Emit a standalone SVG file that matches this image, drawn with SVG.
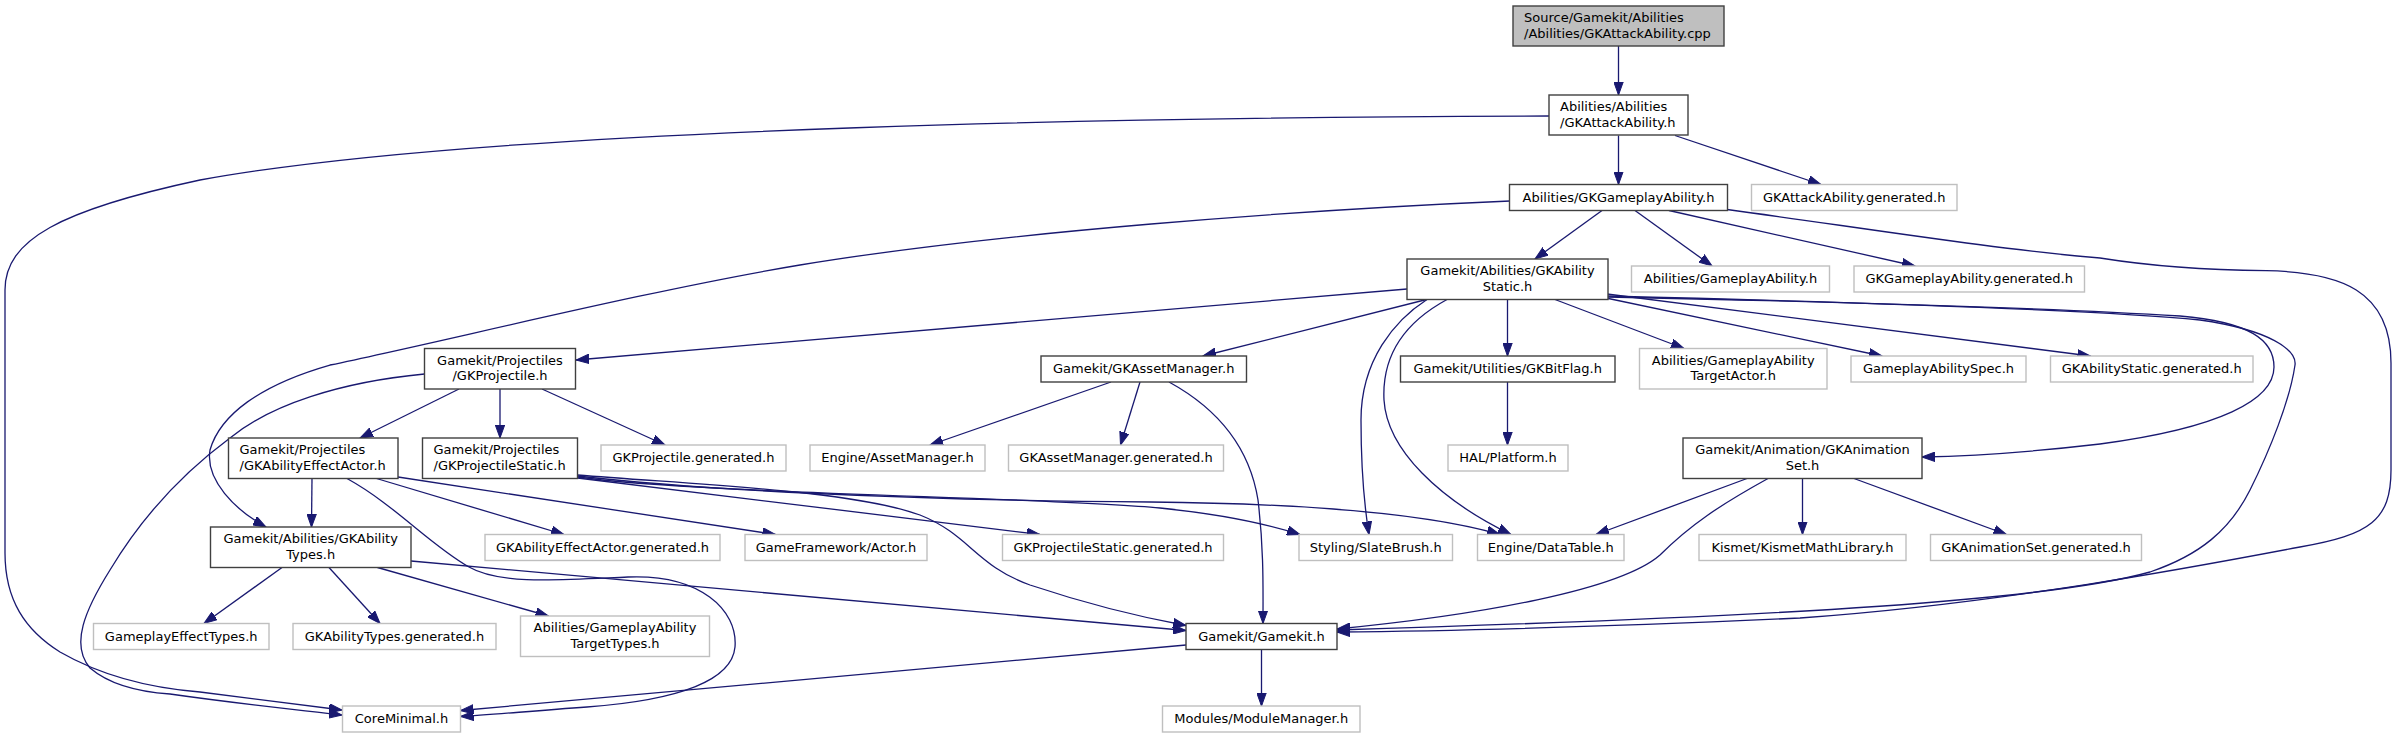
<svg xmlns="http://www.w3.org/2000/svg" width="2397" height="737" viewBox="0 0 2397 737">
<style>
.n rect{fill:#fff;stroke:#404040;stroke-width:1.4}
.l rect{fill:#fff;stroke:#bfbfbf;stroke-width:1.4}
.r rect{fill:#bfbfbf;stroke:#404040;stroke-width:1.4}
text{font-family:"DejaVu Sans",sans-serif;font-size:13px;fill:#000}
.c{text-anchor:middle}
#edges path{fill:none;stroke:#191970;stroke-width:1.3;marker-end:url(#a)}
</style>
<defs>
<marker id="a" markerUnits="userSpaceOnUse" markerWidth="14" markerHeight="10" refX="13" refY="5" orient="auto">
<path d="M0,0.3 L13,5 L0,9.7 z" fill="#191970" stroke="#191970" stroke-width="1"/>
</marker>
</defs>
<rect width="2397" height="737" fill="#fff"/>
<g id="edges">
<path d="M1618.5,46 L1618.5,95"/>
<path d="M1618.5,135.5 L1618.5,184.5"/>
<path d="M1675,135.5 L1821,184.5"/>
<path d="M1549,116 C1200,117 500,125 200,180 C60,210 5,240 5,290 L5,553 C5,600 25,630 60,652 C100,675 150,688 200,692 C260,700 310,706 342,710"/>
<path d="M1602,210.5 L1535,259"/>
<path d="M1635,210.5 L1712,266"/>
<path d="M1669,210.5 L1915,266"/>
<path d="M1727,209.5 C1850,226 2000,250 2100,258 C2150,266 2200,270 2266,270.7 C2340,272 2391,290 2391,363 L2391,470 C2391,520 2370,535 2300,547 C2200,566 2000,604 1800,618 C1600,627 1450,631 1337,632"/>
<path d="M1510,201 C1300,210 1000,232 800,265 C650,290 450,340 330,365 C260,385 220,415 210,450 C205,480 235,510 266,527"/>
<path d="M1407,289 L576,360"/>
<path d="M1426.5,299.5 L1203,356"/>
<path d="M1507.5,299.5 L1507.5,356"/>
<path d="M1555,299.5 L1684,348.5"/>
<path d="M1606,298 L1882,356"/>
<path d="M1607,294 L2090.5,356"/>
<path d="M1607,297 C1800,301 2050,308 2180,316 C2250,322 2274,340 2274,367 C2274,400 2220,428 2100,444 C2040,451 1980,456 1922,457"/>
<path d="M1607,296 C1850,302 2100,310 2200,320 C2270,330 2297,350 2295,365 C2290,400 2270,450 2250,490 C2230,530 2200,555 2150,572 C2050,600 1800,616 1337,630"/>
<path d="M1427,299.5 C1395,320 1361,360 1361,420 C1361,470 1365,510 1369,534.5"/>
<path d="M1447,299.5 C1400,325 1382,360 1384,400 C1387,450 1440,500 1511,534.5"/>
<path d="M459,389 L360,438"/>
<path d="M500,389 L500,438"/>
<path d="M542,389 L665,445"/>
<path d="M424.5,374 C340,382 270,405 230,438 C180,475 140,520 110,570 C85,610 70,645 90,668 C110,685 140,692 170,694 C240,704 300,710 342,715"/>
<path d="M312,478.5 L311.5,527"/>
<path d="M376.5,478.5 L564,534.5"/>
<path d="M398,477 L775.5,534.5"/>
<path d="M347,478.5 C395,505 430,545 469,567 C500,585 560,580 628,577 C700,574 738,610 735,647 C732,680 680,700 587,707 C530,711 490,715 460.5,716.5"/>
<path d="M577.5,478 L1040,534.5"/>
<path d="M577.5,477 C700,494 1050,497 1160,508 C1230,515 1270,525 1300,534.5"/>
<path d="M577.5,476 C700,490 900,500 1150,502 C1350,504 1450,520 1500,534.5"/>
<path d="M577.5,475 C700,485 850,490 920,515 C970,535 975,565 1030,585 C1090,605 1140,617 1186,625.5"/>
<path d="M282,567.5 L204,623.5"/>
<path d="M329,567.5 L380,623.5"/>
<path d="M377.5,567.5 L548.5,616"/>
<path d="M411,561 L1186,630.5"/>
<path d="M1186,645 L460.5,710.5"/>
<path d="M1261.5,649.5 L1261.5,706"/>
<path d="M1111,382 L930,445"/>
<path d="M1140,382 L1120.5,445"/>
<path d="M1169,382 C1220,410 1250,450 1258,500 C1264,550 1263,590 1263,623.5"/>
<path d="M1507.5,382 L1507.5,445"/>
<path d="M1802.5,478.5 L1802.5,534.5"/>
<path d="M1854,478.5 L2006.5,534.5"/>
<path d="M1747,478.5 L1596,534.5"/>
<path d="M1768,478.5 C1720,505 1690,525 1660,555 C1620,590 1480,615 1337,629"/>
</g>
<g id="n0" class="r"><rect x="1513" y="6" width="211" height="40"/><text x="1524" y="22">Source/Gamekit/Abilities</text><text x="1524" y="37.5">/Abilities/GKAttackAbility.cpp</text></g>
<g id="n1" class="n"><rect x="1549" y="95" width="139" height="40"/><text x="1560" y="111">Abilities/Abilities</text><text x="1560" y="126.5">/GKAttackAbility.h</text></g>
<g id="n2" class="n"><rect x="1509.5" y="184.5" width="218" height="26"/><text class="c" x="1618.5" y="201.5">Abilities/GKGameplayAbility.h</text></g>
<g id="n3" class="l"><rect x="1751.5" y="184.5" width="205.5" height="26"/><text class="c" x="1854.2" y="201.5">GKAttackAbility.generated.h</text></g>
<g id="n4" class="n"><rect x="1407" y="259" width="201" height="40.5"/><text class="c" x="1507.5" y="275">Gamekit/Abilities/GKAbility</text><text class="c" x="1507.5" y="290.5">Static.h</text></g>
<g id="n5" class="l"><rect x="1631.5" y="266" width="198" height="26"/><text class="c" x="1730.5" y="283">Abilities/GameplayAbility.h</text></g>
<g id="n6" class="l"><rect x="1854" y="266" width="230.5" height="26"/><text class="c" x="1969.2" y="283">GKGameplayAbility.generated.h</text></g>
<g id="n7" class="n"><rect x="424.5" y="348.5" width="151" height="40.5"/><text class="c" x="500" y="364.5">Gamekit/Projectiles</text><text class="c" x="500" y="380">/GKProjectile.h</text></g>
<g id="n8" class="n"><rect x="1041" y="356" width="205.5" height="26"/><text class="c" x="1143.7" y="373">Gamekit/GKAssetManager.h</text></g>
<g id="n9" class="n"><rect x="1400.5" y="356" width="214.5" height="26"/><text class="c" x="1507.7" y="373">Gamekit/Utilities/GKBitFlag.h</text></g>
<g id="n10" class="l"><rect x="1639.5" y="348.5" width="187.5" height="40.5"/><text class="c" x="1733.2" y="364.5">Abilities/GameplayAbility</text><text class="c" x="1733.2" y="380">TargetActor.h</text></g>
<g id="n11" class="l"><rect x="1851" y="356" width="175" height="26"/><text class="c" x="1938.5" y="373">GameplayAbilitySpec.h</text></g>
<g id="n12" class="l"><rect x="2050.5" y="356" width="202.5" height="26"/><text class="c" x="2151.7" y="373">GKAbilityStatic.generated.h</text></g>
<g id="n13" class="n"><rect x="228.5" y="438" width="169.5" height="40.5"/><text x="239.5" y="454">Gamekit/Projectiles</text><text x="239.5" y="469.5">/GKAbilityEffectActor.h</text></g>
<g id="n14" class="n"><rect x="422.5" y="438" width="155" height="40.5"/><text x="433.5" y="454">Gamekit/Projectiles</text><text x="433.5" y="469.5">/GKProjectileStatic.h</text></g>
<g id="n15" class="l"><rect x="601" y="445" width="185" height="26"/><text class="c" x="693.5" y="462">GKProjectile.generated.h</text></g>
<g id="n16" class="l"><rect x="810" y="445" width="175" height="26"/><text class="c" x="897.5" y="462">Engine/AssetManager.h</text></g>
<g id="n17" class="l"><rect x="1008.5" y="445" width="215" height="26"/><text class="c" x="1116" y="462">GKAssetManager.generated.h</text></g>
<g id="n18" class="l"><rect x="1448" y="445" width="120" height="26"/><text class="c" x="1508" y="462">HAL/Platform.h</text></g>
<g id="n19" class="n"><rect x="1683" y="438" width="239" height="40.5"/><text class="c" x="1802.5" y="454">Gamekit/Animation/GKAnimation</text><text class="c" x="1802.5" y="469.5">Set.h</text></g>
<g id="n20" class="n"><rect x="210.5" y="527" width="200.5" height="40.5"/><text class="c" x="310.7" y="543">Gamekit/Abilities/GKAbility</text><text class="c" x="310.7" y="558.5">Types.h</text></g>
<g id="n21" class="l"><rect x="485" y="534.5" width="235" height="26"/><text class="c" x="602.5" y="551.5">GKAbilityEffectActor.generated.h</text></g>
<g id="n22" class="l"><rect x="745" y="534.5" width="182" height="26"/><text class="c" x="836" y="551.5">GameFramework/Actor.h</text></g>
<g id="n23" class="l"><rect x="1002.5" y="534.5" width="221" height="26"/><text class="c" x="1113" y="551.5">GKProjectileStatic.generated.h</text></g>
<g id="n24" class="l"><rect x="1299" y="534.5" width="153.5" height="26"/><text class="c" x="1375.7" y="551.5">Styling/SlateBrush.h</text></g>
<g id="n25" class="l"><rect x="1477.5" y="534.5" width="146.5" height="26"/><text class="c" x="1550.7" y="551.5">Engine/DataTable.h</text></g>
<g id="n26" class="l"><rect x="1699" y="534.5" width="207" height="26"/><text class="c" x="1802.5" y="551.5">Kismet/KismetMathLibrary.h</text></g>
<g id="n27" class="l"><rect x="1930.5" y="534.5" width="211" height="26"/><text class="c" x="2036" y="551.5">GKAnimationSet.generated.h</text></g>
<g id="n28" class="l"><rect x="93.5" y="623.5" width="175.5" height="26"/><text class="c" x="181.2" y="640.5">GameplayEffectTypes.h</text></g>
<g id="n29" class="l"><rect x="293" y="623.5" width="203" height="26"/><text class="c" x="394.5" y="640.5">GKAbilityTypes.generated.h</text></g>
<g id="n30" class="l"><rect x="520.5" y="616" width="189" height="40.5"/><text class="c" x="615" y="632">Abilities/GameplayAbility</text><text class="c" x="615" y="647.5">TargetTypes.h</text></g>
<g id="n31" class="n"><rect x="1186" y="623.5" width="151" height="26"/><text class="c" x="1261.5" y="640.5">Gamekit/Gamekit.h</text></g>
<g id="n32" class="l"><rect x="342.5" y="706" width="118" height="26"/><text class="c" x="401.5" y="723">CoreMinimal.h</text></g>
<g id="n33" class="l"><rect x="1162.5" y="706" width="197.5" height="26"/><text class="c" x="1261.2" y="723">Modules/ModuleManager.h</text></g>
</svg>
